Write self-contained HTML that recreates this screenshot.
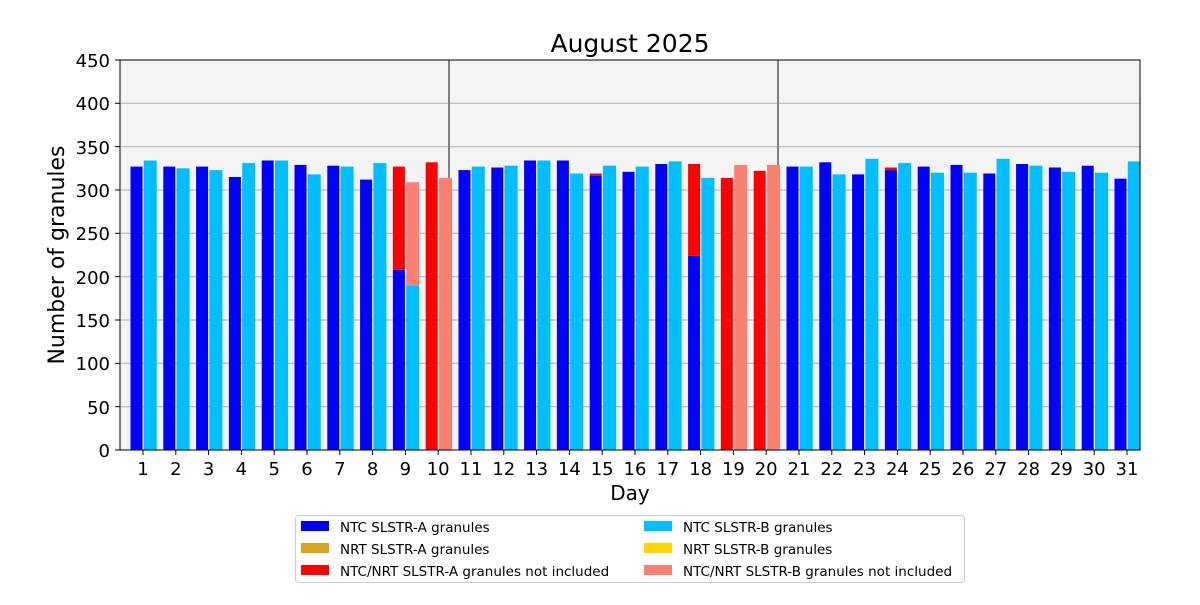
<!DOCTYPE html>
<html><head><meta charset="utf-8"><style>
body{margin:0;background:#fff;}
svg text{font-family:"DejaVu Sans","Liberation Sans",sans-serif;}
</style></head><body>
<svg id="s" width="1200" height="600" xmlns="http://www.w3.org/2000/svg">
<rect x="120" y="60" width="1020" height="390" fill="#f4f4f4"/>
<g stroke="#b0b0b0" stroke-width="1">
<line x1="120" x2="1140" y1="406.7" y2="406.7"/><line x1="120" x2="1140" y1="363.3" y2="363.3"/>
<line x1="120" x2="1140" y1="320" y2="320"/><line x1="120" x2="1140" y1="276.7" y2="276.7"/>
<line x1="120" x2="1140" y1="233.3" y2="233.3"/><line x1="120" x2="1140" y1="190" y2="190"/>
<line x1="120" x2="1140" y1="146.7" y2="146.7"/><line x1="120" x2="1140" y1="103.3" y2="103.3"/>
</g>
<line x1="449" x2="449" y1="60" y2="450" stroke="#808080" stroke-width="2"/>
<line x1="778" x2="778" y1="60" y2="450" stroke="#808080" stroke-width="2"/>
<g id="bars"></g>
<rect x="120" y="60" width="1020" height="390" fill="none" stroke="#000" stroke-width="1"/>
<g id="ticks" stroke="#000" stroke-width="1"></g>
<text x="630" y="52" font-size="25" text-anchor="middle">August 2025</text>
<g font-size="18" text-anchor="end">
<text x="110" y="457">0</text><text x="110" y="414">50</text><text x="110" y="370">100</text>
<text x="110" y="327">150</text><text x="110" y="284">200</text><text x="110" y="240">250</text>
<text x="110" y="197">300</text><text x="110" y="154">350</text><text x="110" y="110">400</text>
<text x="110" y="67">450</text>
</g>
<text transform="translate(64,255) rotate(-90)" font-size="22" text-anchor="middle">Number of granules</text>
<g id="xt" font-size="18" text-anchor="middle">
<text x="143" y="475">1</text><text x="175.8" y="475">2</text><text x="208.6" y="475">3</text><text x="241.4" y="475">4</text>
<text x="274.2" y="475">5</text><text x="307" y="475">6</text><text x="339.8" y="475">7</text><text x="372.6" y="475">8</text>
<text x="405.4" y="475">9</text><text x="438.2" y="475">10</text><text x="471" y="475">11</text><text x="503.8" y="475">12</text>
<text x="536.6" y="475">13</text><text x="569.4" y="475">14</text><text x="602.2" y="475">15</text><text x="635" y="475">16</text>
<text x="667.8" y="475">17</text><text x="700.6" y="475">18</text><text x="733.4" y="475">19</text><text x="766.2" y="475">20</text>
<text x="799" y="475">21</text><text x="831.8" y="475">22</text><text x="864.6" y="475">23</text><text x="897.4" y="475">24</text>
<text x="930.2" y="475">25</text><text x="963" y="475">26</text><text x="995.8" y="475">27</text><text x="1028.6" y="475">28</text>
<text x="1061.4" y="475">29</text><text x="1094.2" y="475">30</text><text x="1127" y="475">31</text>
</g>
<text x="630" y="500" font-size="20" text-anchor="middle">Day</text>
<rect x="295.5" y="515.5" width="669" height="67" fill="#fff" stroke="#ccc" rx="3"/>
<g font-size="13.5">
<rect x="301" y="521" width="28" height="10" fill="#0000ff"/><text x="340" y="532">NTC SLSTR-A granules</text>
<rect x="301" y="543" width="28" height="10" fill="#daa520"/><text x="340" y="554">NRT SLSTR-A granules</text>
<rect x="301" y="565" width="28" height="10" fill="#ff0000"/><text x="340" y="576">NTC/NRT SLSTR-A granules not included</text>
<rect x="644" y="521" width="28" height="10" fill="#00bfff"/><text x="683" y="532">NTC SLSTR-B granules</text>
<rect x="644" y="543" width="28" height="10" fill="#ffd700"/><text x="683" y="554">NRT SLSTR-B granules</text>
<rect x="644" y="565" width="28" height="10" fill="#fa8072"/><text x="683" y="576">NTC/NRT SLSTR-B granules not included</text>
</g>
</svg>
<script>
var d=[[327,0,334,0],[327,0,325,0],[327,0,323,0],[315,0,331,0],[334,0,334,0],[329,0,318,0],[328,0,327,0],[312,0,331,0],
[208,327,190,309],[0,332,0,314],[323,0,327,0],[326,0,328,0],[334,0,334,0],[334,0,319,0],[317,319,328,0],[321,0,327,0],
[330,0,333,0],[224,330,314,0],[0,314,0,329],[0,322,0,329],[327,0,327,0],[332,0,318,0],[318,0,336,0],[323,326,331,0],
[327,0,320,0],[329,0,320,0],[319,0,336,0],[330,0,328,0],[326,0,321,0],[328,0,320,0],[313,0,333,0]];
var k=0.8667,g=document.getElementById('bars'),h='',t='';
function r(x,w,v0,v1,c){if(v1<=v0)return;var y=450-v1*k;h+='<rect x="'+x+'" y="'+y.toFixed(1)+'" width="'+w+'" height="'+((v1-v0)*k).toFixed(1)+'" fill="'+c+'"/>';}
d.forEach(function(a,i){var x=143+i*32.8;
r(x-12.5,12,0,a[0],'#0000ff');r(x-12.5,12,a[0],a[1],'#ff0000');
var w=Math.min(13,1140-(x+0.8));r(x+0.8,w,0,a[2],'#00bfff');r(x+0.8,w,a[2],a[3],'#fa8072');
t+='<line x1="'+x+'" x2="'+x+'" y1="450" y2="455"/>';});
for(var v=0;v<=450;v+=50){var y=450-v*k;t+='<line x1="115" x2="120" y1="'+y+'" y2="'+y+'"/>';}
g.innerHTML=h;document.getElementById('ticks').innerHTML=t;
</script>
</body></html>
